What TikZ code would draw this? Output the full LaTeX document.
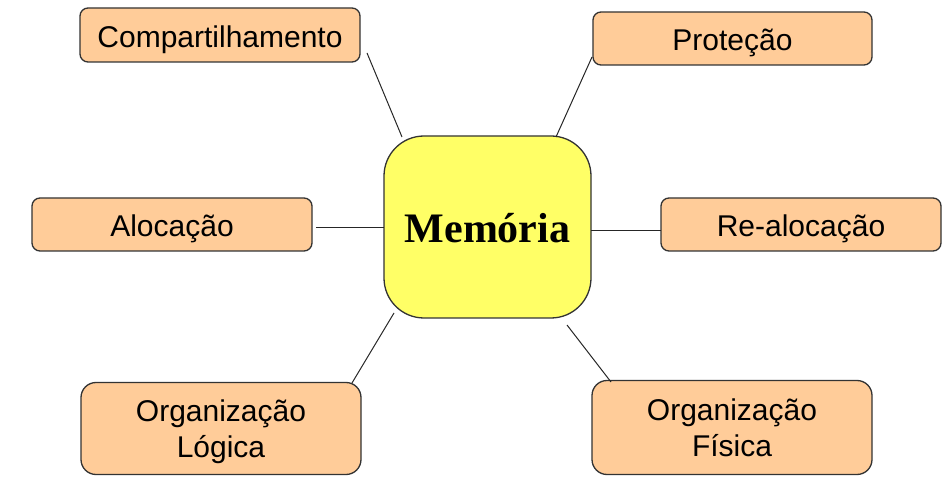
\documentclass[tikz,border=0pt]{standalone}
\usepackage{fontspec}
\setmainfont{Liberation Sans}
\newfontfamily\serifbold{Liberation Serif}
\definecolor{peach}{HTML}{FFCC99}
\definecolor{lemon}{HTML}{FFFF66}
\definecolor{edge}{HTML}{333333}
\begin{document}
\begin{tikzpicture}[x=1pt,y=-1pt,
  topic/.style={draw=edge,line width=1.3pt,fill=peach,rounded corners=8pt,
    inner sep=0pt,font=\fontsize{30}{36}\selectfont,align=center},
  oneline/.style={text height=25pt,text depth=0pt},
  twoline/.style={rounded corners=15pt,text depth=0pt},
  center/.style={draw=edge,line width=1.3pt,fill=lemon,rounded corners=40pt,
    inner sep=0pt,minimum width=207pt,minimum height=182pt,
    text height=32pt,text depth=0pt,
    font=\serifbold\bfseries\fontsize{42}{50}\selectfont},
  link/.style={draw=black!85,line width=1pt}]
\useasboundingbox (0,0) rectangle (946,481);
\node[center] (mem) at (487.5,227) {Memória};
\node[topic,oneline,minimum width=280pt,minimum height=54pt] (comp) at (220,35) {Compartilhamento};
\node[topic,oneline,minimum width=279pt,minimum height=53pt] (prot) at (732.5,38.5) {Proteção};
\node[topic,oneline,minimum width=280pt,minimum height=53pt] (aloc) at (172,224.5) {Alocação};
\node[topic,oneline,minimum width=280pt,minimum height=53pt] (real) at (801,224.5) {Re-alocação};
\node[topic,twoline,minimum width=280pt,minimum height=92pt] (logi) at (221,428.5) {Organização\\Lógica};
\node[topic,twoline,minimum width=280pt,minimum height=94pt] (fisi) at (732,427.5) {Organização\\Física};
\coordinate (c1) at (367,53);  \coordinate (m1) at (402,137);
\coordinate (c2) at (592,57);  \coordinate (m2) at (556,137);
\coordinate (c3) at (316,228); \coordinate (m3) at (384,228);
\coordinate (c4) at (661,231); \coordinate (m4) at (591,231);
\coordinate (c5) at (352,383); \coordinate (m5) at (394,313);
\coordinate (c6) at (611,382); \coordinate (m6) at (567,325);
\draw[link] (c1) -- (m1);
\draw[link] (c2) -- (m2);
\draw[link] (c3) -- (m3);
\draw[link] (c4) -- (m4);
\draw[link] (c5) -- (m5);
\draw[link] (c6) -- (m6);
\end{tikzpicture}
\end{document}
